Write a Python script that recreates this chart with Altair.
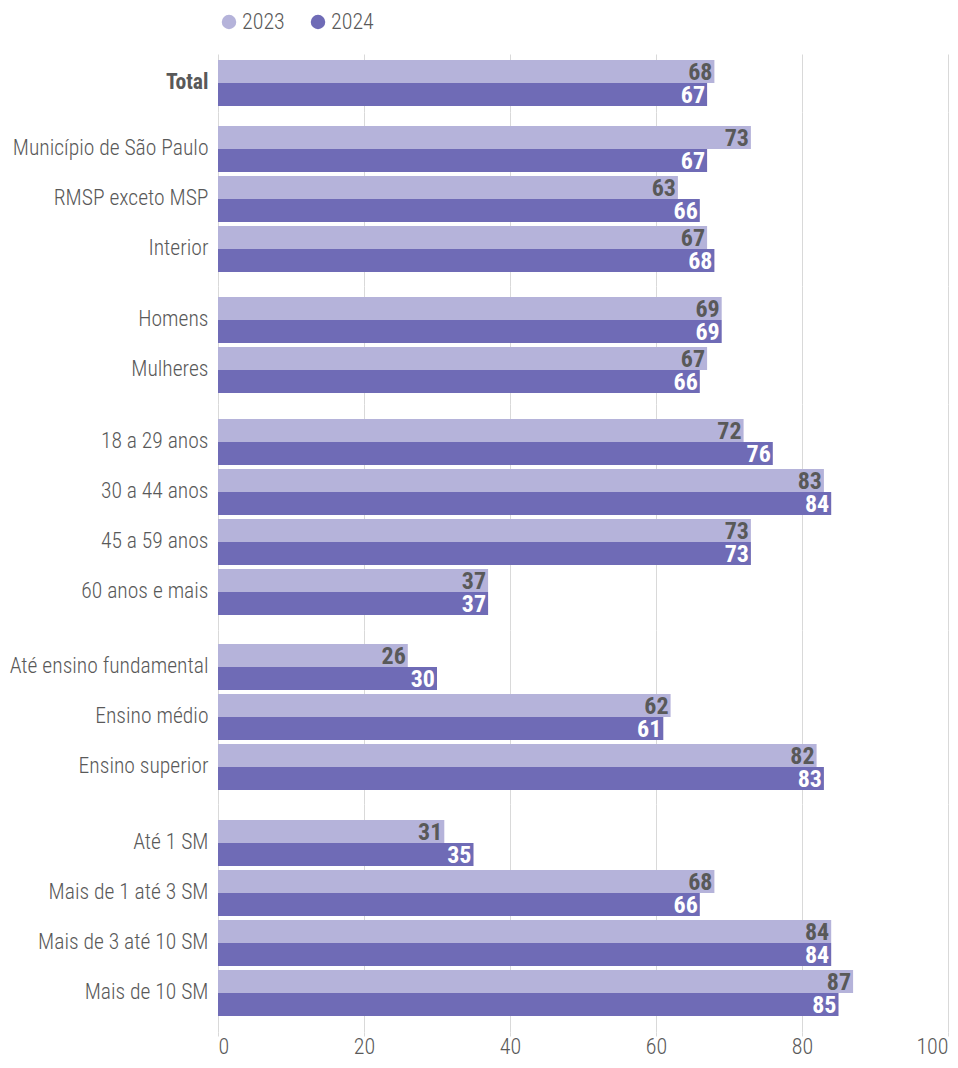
import altair as alt
import pandas as pd

categories = ["Total", "Município de São Paulo", "RMSP exceto MSP", "Interior",
              "Homens", "Mulheres",
              "18 a 29 anos", "30 a 44 anos", "45 a 59 anos", "60 anos e mais",
              "Até ensino fundamental", "Ensino médio", "Ensino superior",
              "Até 1 SM", "Mais de 1 até 3 SM", "Mais de 3 até 10 SM", "Mais de 10 SM"]
groups = [0, 1, 1, 1, 2, 2, 3, 3, 3, 3, 4, 4, 4, 5, 5, 5, 5]
v2023 = [68, 73, 63, 67, 69, 67, 72, 83, 73, 37, 26, 62, 82, 31, 68, 84, 87]
v2024 = [67, 67, 66, 68, 69, 66, 76, 84, 73, 37, 30, 61, 83, 35, 66, 84, 85]
years = ["2023", "2024"]
colors = ["#b5b3da", "#6f6bb6"]

rows = []
for c, g, a, b in zip(categories, groups, v2023, v2024):
    rows.append({"cat": c, "group": g, "year": "2023", "value": a})
    rows.append({"cat": c, "group": g, "year": "2024", "value": b})
df = pd.DataFrame(rows)

FONT = "Roboto Condensed, Liberation Sans Narrow, Open Sans, sans-serif"
GRAY = "#595959"
STEP = 50
# symmetric outer padding (px) of each group panel
group_pads = [6, 14, 11, 15, 14, 16]

def panel(g, pad, last):
    sub = df[df.group == g]
    cats = [c for c, gg in zip(categories, groups) if gg == g]
    n = len(cats)
    pi = 0.08
    h = STEP * n - STEP * pi + 2 * pad
    po = pad / STEP
    if last:
        x_axis = alt.Axis(
            values=[0, 20, 40, 60, 80, 100], grid=True, gridColor="#d9d9d9",
            domain=False, labels=True, ticks=True, tickColor="#d9d9d9", tickSize=4,
            labelFontSize=22, labelColor=GRAY, labelFont=FONT, labelFontWeight=300,
            labelFlush=True, title=None, labelPadding=0,
        )
    else:
        x_axis = alt.Axis(
            values=[0, 20, 40, 60, 80, 100], grid=True, gridColor="#d9d9d9",
            domain=False, labels=False, ticks=False, title=None,
            labelPadding=0, tickSize=0,
        )
    y_axis = alt.Axis(
        title=None, domain=False, ticks=False, labelFontSize=21.6, labelColor=GRAY,
        labelFont=FONT, labelPadding=10, labelLimit=400,
        labelFontWeight="bold" if g == 0 else 300,
    )
    base = alt.Chart(sub).encode(
        y=alt.Y("cat:N", sort=cats, axis=y_axis,
                scale=alt.Scale(paddingInner=pi, paddingOuter=po)),
        yOffset=alt.YOffset("year:N", sort=years,
                            scale=alt.Scale(paddingInner=0, paddingOuter=0)),
    )
    leg = None
    if g == 0:
        leg = alt.Legend(title=None, orient="top", direction="horizontal",
                         symbolType="circle", symbolSize=210,
                         labelFontSize=22, labelColor=GRAY, labelFont=FONT,
                         labelFontWeight=300, symbolStrokeWidth=0, columnPadding=22,
                         labelOffset=2, offset=21, padding=0)
    bars = base.mark_bar().encode(
        x=alt.X("value:Q", scale=alt.Scale(domain=[0, 100], nice=False), axis=x_axis),
        color=alt.Color("year:N", sort=years,
                        scale=alt.Scale(domain=years, range=colors),
                        legend=leg),
    )
    texts = base.mark_text(align="right", baseline="middle", dx=-2, dy=1,
                           fontSize=24, fontWeight="bold", font=FONT).encode(
        x=alt.X("value:Q"),
        text=alt.Text("value:Q"),
        color=alt.condition(alt.datum.year == "2023", alt.value(GRAY), alt.value("#ffffff")),
    )
    return alt.layer(bars, texts).properties(width=730, height=h)

panels = [panel(g, p, g == 5) for g, p in enumerate(group_pads)]
chart = (alt.vconcat(*panels, spacing=0)
         .properties(padding={"left": 1, "top": 3, "right": 0, "bottom": 0})
         .configure(font=FONT)
         .configure_view(stroke=None)
         .configure_concat(spacing=0))

chart.save("out.html", embed_options={"renderer": "svg", "actions": False})
